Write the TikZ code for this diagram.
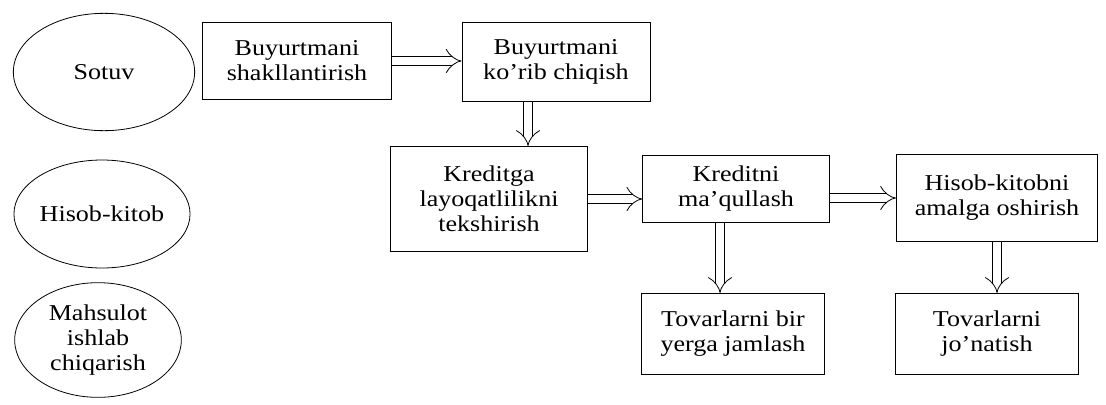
\documentclass[tikz,border=0pt]{standalone}
\usepackage{fontspec}
\setmainfont{Liberation Serif}[FakeStretch=1.15]
\usetikzlibrary{shapes.geometric,arrows.meta,positioning}

\begin{document}
\begin{tikzpicture}[x=0.75pt, y=-0.75pt, font=\fontsize{17}{18.75}\selectfont,
  box/.style={draw, line width=0.6pt, align=center, inner sep=0pt},
  dept/.style={draw, ellipse, line width=0.6pt, align=center, inner sep=0pt},
  flow/.style={double, double distance=6pt, line width=0.6pt, -{Implies[scale=1.6]}}]
\useasboundingbox (0,0) rectangle (1106,404);
\node[dept, minimum width=136pt, minimum height=88pt] (sotuv) at (104,72) {Sotuv};
\node[dept, minimum width=131pt, minimum height=81pt] (hisob) at (102,214) {Hisob-kitob};
\node[dept, minimum width=125pt, minimum height=86pt] (mahsulot) at (98,340) {Mahsulot\\ishlab\\chiqarish};
\node[box, minimum width=142pt, minimum height=58pt] (b1) at (297,61) {Buyurtmani\\shakllantirish};
\node[box, minimum width=141pt, minimum height=59pt] (b2) at (556,62) {Buyurtmani\\ko’rib chiqish};
\node[box, minimum width=148pt, minimum height=79pt] (b3) at (489,199) {Kreditga\\layoqatlilikni\\tekshirish};
\node[box, minimum width=140pt, minimum height=50pt] (b4) at (736,189) {Kreditni\\ma’qullash};
\node[box, minimum width=151pt, minimum height=65pt] (b5) at (997,198) {Hisob-kitobni\\amalga oshirish};
\node[box, minimum width=137pt, minimum height=61pt] (b6) at (733,334) {Tovarlarni bir\\yerga jamlash};
\node[box, minimum width=137pt, minimum height=61pt] (b7) at (987,334) {Tovarlarni\\jo’natish};
\draw[flow] (b1.east) -- (b1.east -| b2.west);
\draw[flow] ([xshift=-21pt]b2.south) -- ([xshift=-21pt]b2.south |- b3.north);
\draw[flow] (b3.east) -- (b3.east -| b4.west);
\draw[flow] (b5.west -| b4.east) -- (b5.west);
\draw[flow] ([xshift=-12pt]b4.south) -- ([xshift=-12pt]b4.south |- b6.north);
\draw[flow] (b5.south) -- (b5.south |- b7.north);
\end{tikzpicture}
\end{document}
